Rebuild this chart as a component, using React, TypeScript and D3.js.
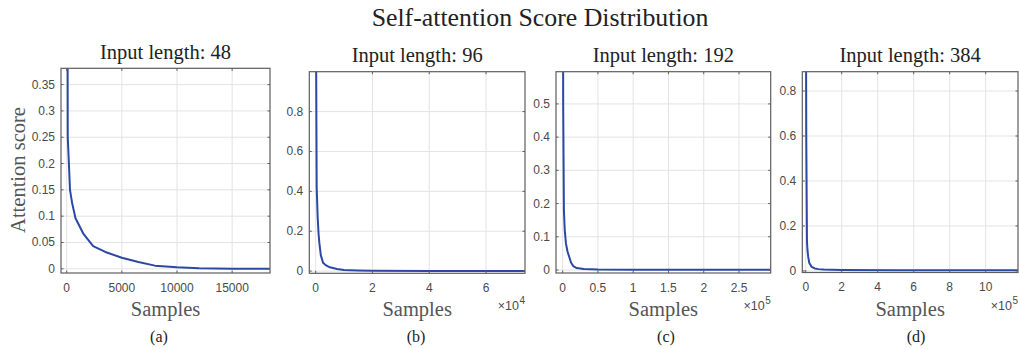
import * as d3 from "d3";

// Sorted attention scores per input length.
const samplesA = [0, 96, 200, 300, 500, 800, 1500, 2400, 3500, 5000, 6500, 8000, 10000, 12000, 15000, 18432];
const scoreA = [1.5, 0.25, 0.2, 0.15, 0.124, 0.096, 0.067, 0.043, 0.032, 0.021, 0.013, 0.006, 0.0027, 0.0008, 0.0003, 0.0002];

const samplesB = [0, 350, 700, 1000, 1300, 1800, 2600, 3500, 5000, 7500, 10000, 15000, 20000, 40000, 73728];
const scoreB = [1.6, 0.42, 0.27, 0.19, 0.14, 0.08, 0.042, 0.03, 0.019, 0.011, 0.006, 0.003, 0.0015, 0.001, 0.0008];

const samplesC = [0, 800, 1800, 3000, 4700, 7000, 9300, 12000, 15000, 20000, 30000, 50000, 100000, 200000, 294912];
const scoreC = [1.5, 0.5, 0.18, 0.12, 0.08, 0.055, 0.04, 0.022, 0.012, 0.006, 0.003, 0.0015, 0.001, 0.0008, 0.0007];

const samplesD = [0, 3000, 7000, 10000, 14000, 20000, 33000, 50000, 70000, 100000, 200000, 500000, 1179648];
const scoreD = [1.6, 0.6, 0.13, 0.09, 0.062, 0.035, 0.018, 0.011, 0.008, 0.006, 0.004, 0.003, 0.0025];

const inputLengths = [48, 96, 192, 384];
const subLabels = ["(a)", "(b)", "(c)", "(d)"];

const xTicksA = [0, 5000, 10000, 15000];
const xTicksB = [0, 20000, 40000, 60000];
const xTicksC = [0, 50000, 100000, 150000, 200000, 250000];
const xTicksD = [0, 200000, 400000, 600000, 800000, 1000000];

const yTicksA = [0, 0.05, 0.1, 0.15, 0.2, 0.25, 0.3, 0.35];
const yTicksB = [0, 0.2, 0.4, 0.6, 0.8];
const yTicksC = [0, 0.1, 0.2, 0.3, 0.4, 0.5];
const yTicksD = [0, 0.2, 0.4, 0.6, 0.8];

const xExponent = [0, 4, 5, 5];

const xDomains: [number, number][] = [
  [-516, 18432],
  [-2250, 73728],
  [-9400, 294912],
  [-19000, 1179648],
];
const yDomains: [number, number][] = [
  [-0.008, 0.381],
  [-0.011, 1.0],
  [-0.009, 0.597],
  [-0.007, 0.886],
];

type Panel = {
  xs: number[];
  ys: number[];
  xTicks: number[];
  yTicks: number[];
  left: number;
  right: number;
  top: number;
  bottom: number;
  subX: number;
};

const panels: Panel[] = [
  { xs: samplesA, ys: scoreA, xTicks: xTicksA, yTicks: yTicksA, left: 61, right: 270, top: 68.3, bottom: 273, subX: 159 },
  { xs: samplesB, ys: scoreB, xTicks: xTicksB, yTicks: yTicksB, left: 309.3, right: 525, top: 71.7, bottom: 273.3, subX: 416 },
  { xs: samplesC, ys: scoreC, xTicks: xTicksC, yTicks: yTicksC, left: 556, right: 770.7, top: 71.7, bottom: 273, subX: 666 },
  { xs: samplesD, ys: scoreD, xTicks: xTicksD, yTicks: yTicksD, left: 802.3, right: 1018, top: 71.7, bottom: 272.5, subX: 916 },
];

const SERIF = "'Liberation Serif', 'Times New Roman', serif";
const SANS = "'Liberation Sans', Arial, sans-serif";
const AXIS = "#5e5e5e";
const LABEL = "#4a4a4a";
const GRID = "#e3e3e3";
const LINE = "#2c48a5";

function Subplot({ p, i }: { p: Panel; i: number }) {
  const x = d3.scaleLinear().domain(xDomains[i]).range([p.left, p.right]);
  const y = d3.scaleLinear().domain(yDomains[i]).range([p.bottom, p.top]);
  const exp = xExponent[i];
  const pts = p.xs.map((v, k) => [v, p.ys[k]] as [number, number]);
  const line = d3
    .line<[number, number]>()
    .x((d) => x(d[0]))
    .y((d) => y(d[1]));
  const clipId = `clip-${i}`;
  const tl = 2.5;
  const fmtX = (v: number) => (exp ? String(+(v / 10 ** exp).toFixed(2)) : String(v));
  const fmtY = (v: number) => String(+v.toFixed(2));
  const cx = (p.left + p.right) / 2;

  return (
    <g>
      <defs>
        <clipPath id={clipId}>
          <rect x={p.left} y={p.top} width={p.right - p.left} height={p.bottom - p.top} />
        </clipPath>
      </defs>
      <rect x={p.left} y={p.top} width={p.right - p.left} height={p.bottom - p.top} fill="#fff" />
      {p.xTicks.map((t) => (
        <line key={`gx${t}`} x1={x(t)} x2={x(t)} y1={p.top} y2={p.bottom} stroke={GRID} strokeWidth={1} />
      ))}
      {p.yTicks.map((t) => (
        <line key={`gy${t}`} x1={p.left} x2={p.right} y1={y(t)} y2={y(t)} stroke={GRID} strokeWidth={1} />
      ))}
      <path d={line(pts) ?? ""} fill="none" stroke={LINE} strokeWidth={2} clipPath={`url(#${clipId})`} strokeLinejoin="round" />
      {p.xTicks.map((t) => (
        <g key={`tx${t}`}>
          <line x1={x(t)} x2={x(t)} y1={p.bottom} y2={p.bottom - tl} stroke={AXIS} />
          <line x1={x(t)} x2={x(t)} y1={p.top} y2={p.top + tl} stroke={AXIS} />
          <text x={x(t)} y={p.bottom + 18.5} textAnchor="middle" fontFamily={SANS} fontSize={12} fill={LABEL}>
            {fmtX(t)}
          </text>
        </g>
      ))}
      {p.yTicks.map((t) => (
        <g key={`ty${t}`}>
          <line x1={p.left} x2={p.left + tl} y1={y(t)} y2={y(t)} stroke={AXIS} />
          <line x1={p.right} x2={p.right - tl} y1={y(t)} y2={y(t)} stroke={AXIS} />
          <text x={p.left - 6} y={y(t) + 4} textAnchor="end" fontFamily={SANS} fontSize={12} fill={LABEL}>
            {fmtY(t)}
          </text>
        </g>
      ))}
      <rect x={p.left} y={p.top} width={p.right - p.left} height={p.bottom - p.top} fill="none" stroke={AXIS} strokeWidth={1.2} />
      {exp > 0 && (
        <g fontFamily={SANS} fill={LABEL}>
          <text x={p.right - 6} y={310} textAnchor="end" fontSize={12.5}>
            ×10
          </text>
          <text x={p.right - 5.5} y={304} textAnchor="start" fontSize={10}>
            {exp}
          </text>
        </g>
      )}
      <text x={cx} y={p.top - 9.5} textAnchor="middle" fontFamily={SERIF} fontSize={20.5} fill="#222">
        Input length: {inputLengths[i]}
      </text>
      <text x={cx} y={316} textAnchor="middle" fontFamily={SERIF} fontSize={20.5} fill="#555">
        Samples
      </text>
      <text x={p.subX} y={341.5} textAnchor="middle" fontFamily={SERIF} fontSize={16} fill="#222">
        {subLabels[i]}
      </text>
    </g>
  );
}

export default function App() {
  return (
    <svg
      width={1019}
      height={349}
      style={{ position: "absolute", left: 0, top: 0, background: "#fff" }}
    >
      <text x={540} y={26} textAnchor="middle" fontFamily={SERIF} fontSize={25.8} fill="#222">
        Self-attention Score Distribution
      </text>
      <text
        transform="translate(25,170) rotate(-90)"
        textAnchor="middle"
        fontFamily={SERIF}
        fontSize={20.5}
        fill="#555"
      >
        Attention score
      </text>
      {panels.map((p, i) => (
        <Subplot key={i} p={p} i={i} />
      ))}
    </svg>
  );
}
